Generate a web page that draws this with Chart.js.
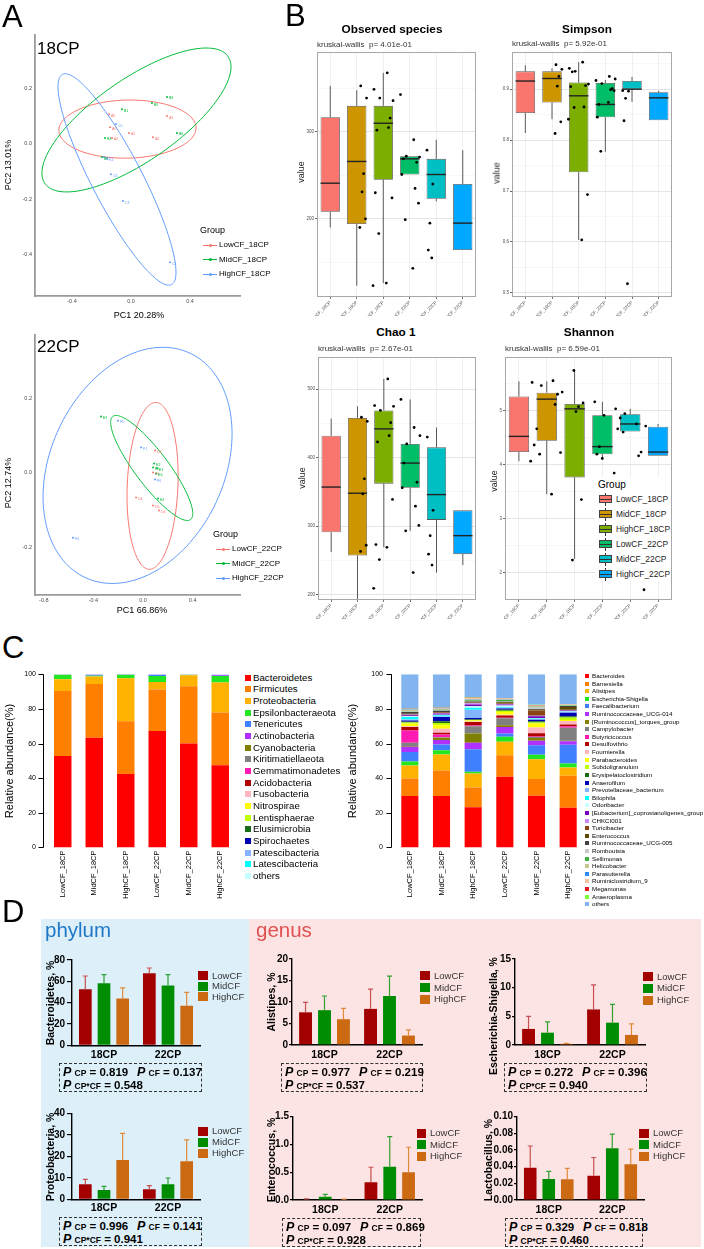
<!DOCTYPE html>
<html>
<head>
<meta charset="utf-8">
<title>Figure</title>
<script src="https://cdn.jsdelivr.net/npm/chart.js@4.4.1/dist/chart.umd.min.js"></script>
<style>
  html, body { margin: 0; padding: 0; background: #fff; }
  #page { position: relative; width: 704px; height: 1249px; overflow: hidden; font-family: "Liberation Sans", Arial, sans-serif; color: #000; }
  #page canvas { position: absolute; }
  .t { position: absolute; white-space: pre; line-height: 1; }
  .r { position: absolute; }
  .pb { position: absolute; border: 1px dashed #333; box-sizing: border-box; }
  .P { font-style: italic; font-size: 12.5px; font-weight: bold; }
  .s { font-size: 8.5px; font-weight: bold; }
</style>
</head>
<body>
<div id="page"></div>
<script>
// ================= data =================
const sampleNames = ["LowCF_18CP", "MidCF_18CP", "HighCF_18CP", "LowCF_22CP", "MidCF_22CP", "HighCF_22CP"];

// --- A: PCoA scores [PC1, PC2]
const pc18Groups = ["LowCF_18CP", "MidCF_18CP", "HighCF_18CP"];
const pc22Groups = ["LowCF_22CP", "MidCF_22CP", "HighCF_22CP"];
const pcColors = ["#F8766D", "#00BA38", "#619CFF"];
const pc18Low = [[-0.149, 0.107], [0.244, 0.100], [-0.142, 0.060], [-0.014, 0.039], [0.149, 0.024], [-0.129, 0.021]];
const pc18Mid = [[0.244, 0.169], [0.142, 0.147], [-0.061, 0.125], [0.312, 0.039], [-0.176, 0.021], [-0.197, -0.048]];
const pc18High = [[-0.102, 0.071], [-0.183, -0.048], [-0.163, -0.052], [-0.136, -0.110], [-0.054, -0.207], [0.264, -0.428]];
const pc22Low = [[0.097, 0.060], [-0.056, -0.066], [0.081, -0.088], [0.129, -0.101], [0.081, 0.001]];
const pc22Mid = [[-0.339, 0.151], [0.089, 0.025], [0.081, 0.014], [0.105, -0.002], [0.121, -0.069], [0.113, 0.012]];
const pc22High = [[-0.202, 0.140], [-0.016, 0.068], [0.097, -0.018], [-0.565, -0.174]];
const pc18Tags = [["A5", "A3", "A6", "A1", "A4", "A2"], ["B3", "B5", "B1", "B6", "B4", "B2"], ["C5", "C2", "C1", "C6", "C3", "C4"]];
const pc22Tags = [["D2", "D4", "D5", "D6", "D1"], ["E3", "E2", "E5", "E6", "E4", "E1"], ["F5", "F1", "F6", "F4"]];
// confidence ellipses: [centre PC1, centre PC2, half-range PC1, half-range PC2, phase]
const ell18 = [[-0.024, 0.053, 0.465, 0.105, 1.53], [0.037, 0.086, 0.641, 0.26, 0.74], [-0.095, -0.129, 0.40, 0.382, 2.64]];
const ell22 = [[0.077, -0.035, 0.206, 0.224, 1.45], [0.070, 0.013, 0.331, 0.141, 2.62], [-0.044, 0.020, 0.762, 0.317, 1.30]];
const pc18XTicks = [-0.4, 0, 0.4];
const pc18YTicks = [-0.4, -0.2, 0, 0.2];
const pc22XTicks = [-0.8, -0.4, 0, 0.4];
const pc22YTicks = [-0.2, 0, 0.2];

// --- B: alpha diversity boxplots
const boxColors = ["#F8766D", "#CD9600", "#7CAE00", "#00BE67", "#00BFC4", "#00A9FF"];
const obsLo = [190, 123, 126, 251, 220, 164];
const obsQ1 = [208, 194, 245, 251, 223, 164];
const obsMed = [241, 266, 310, 269, 251, 195];
const obsQ3 = [317, 330, 330, 272, 269, 240];
const obsHi = [353, 348, 368, 272, 291, 279];
const obsPts = [[353, 339, 252, 231, 200, 190], [349, 339, 302, 230, 183, 123], [368, 336, 316, 305, 224, 126],
  [343, 272, 269, 251, 199], [291, 271, 265, 235, 218, 143], [279, 240, 195, 164, 155]];
const obsGrid = [150, 200, 250, 300, 350];
const obsLabels = [200, 300];

const simLo = [0.814, 0.841, 0.604, 0.777, 0.875, 0.839];
const simQ1 = [0.853, 0.874, 0.737, 0.845, 0.900, 0.839];
const simMed = [0.916, 0.921, 0.887, 0.870, 0.900, 0.883];
const simQ3 = [0.935, 0.935, 0.913, 0.912, 0.916, 0.894];
const simHi = [0.947, 0.941, 0.953, 0.918, 0.924, 0.897];
const simPts = [[0.948, 0.939, 0.925, 0.906, 0.836, 0.813], [0.941, 0.935, 0.934, 0.905, 0.864, 0.841], [0.953, 0.910, 0.907, 0.865, 0.693, 0.604],
  [0.917, 0.911, 0.870, 0.845, 0.778], [0.925, 0.920, 0.901, 0.899, 0.897, 0.874], [0.897, 0.896, 0.882, 0.838, 0.518]];
const simGrid = [0.5, 0.55, 0.6, 0.65, 0.7, 0.75, 0.8, 0.85, 0.9, 0.95];
const simLabels = [0.5, 0.6, 0.7, 0.8, 0.9];

const chaoLo = [262, 192, 269, 293, 232, 243];
const chaoQ1 = [291, 257, 362, 356, 309, 259];
const chaoMed = [357, 348, 442, 392, 346, 286];
const chaoQ3 = [432, 458, 469, 420, 415, 323];
const chaoHi = [457, 475, 515, 485, 444, 323];
const chaoPts = [[459, 453, 369, 347, 272, 263], [476, 469, 423, 273, 251, 209], [515, 475, 451, 432, 339, 269],
  [485, 420, 392, 356, 293], [444, 432, 364, 329, 301, 232], [430, 323, 286, 259, 243]];
const chaoGrid = [200, 250, 300, 350, 400, 450, 500];
const chaoLabels = [200, 300, 400, 500];

const shanLo = [4.06, 3.45, 2.25, 4.12, 4.61, 4.16];
const shanQ1 = [4.23, 4.44, 3.76, 4.19, 4.61, 4.16];
const shanMed = [4.52, 5.21, 5.03, 4.33, 4.75, 4.23];
const shanQ3 = [5.26, 5.33, 5.12, 4.91, 4.93, 4.70];
const shanHi = [5.54, 5.54, 5.74, 5.16, 5.03, 4.75];
const shanPts = [[5.52, 5.46, 4.66, 4.36, 4.19, 4.06], [5.55, 5.34, 5.30, 5.11, 4.22, 3.45], [5.74, 5.14, 5.07, 4.98, 3.35, 2.23],
  [5.16, 4.91, 4.33, 4.19, 4.11], [5.03, 4.94, 4.86, 4.66, 4.60, 3.84], [4.75, 4.71, 4.23, 4.16, 1.68]];
const shanGrid = [1.5, 2, 2.5, 3, 3.5, 4, 4.5, 5, 5.5];
const shanLabels = [2, 3, 4, 5];

// --- C: relative abundance (%)
const abundTicks = [0, 20, 40, 60, 80, 100];
const phylaNames = ["Bacteroidetes", "Firmicutes", "Proteobacteria", "Epsilonbacteraeota", "Tenericutes", "Actinobacteria",
  "Cyanobacteria", "Kiritimatiellaeota", "Gemmatimonadetes", "Acidobacteria", "Fusobacteria", "Nitrospirae",
  "Lentisphaerae", "Elusimicrobia", "Spirochaetes", "Patescibacteria", "Latescibacteria", "others"];
const phylaColors = ["#FF0000", "#FF7F00", "#FFB300", "#22E622", "#4080FF", "#B030FF", "#808000", "#808080", "#FF1AB3",
  "#B00000", "#FFB6C1", "#FFFF00", "#C0FF00", "#1B6B1B", "#0000B3", "#82B4FF", "#00FFFF", "#C6FFFF"];
const phylaLow18 = [52.9, 37.5, 6.7, 2.6, 0.1, 0.1, 0, 0, 0, 0, 0, 0, 0, 0, 0, 0, 0, 0.1];
const phylaMid18 = [63.3, 31.1, 4.4, 0.4, 0.6, 0.1, 0, 0, 0, 0, 0, 0, 0, 0, 0, 0, 0, 0.1];
const phylaHigh18 = [42.5, 30.4, 24.8, 2.1, 0.1, 0.1, 0, 0, 0, 0, 0, 0, 0, 0, 0, 0, 0, 0];
const phylaLow22 = [67.3, 23.9, 4.4, 3.4, 0.7, 0.2, 0, 0, 0, 0, 0, 0, 0, 0, 0, 0, 0, 0.1];
const phylaMid22 = [60.0, 33.1, 6.3, 0.3, 0.1, 0.1, 0, 0, 0, 0, 0, 0, 0, 0, 0, 0, 0, 0.1];
const phylaHigh22 = [47.5, 30.4, 17.3, 3.8, 0.2, 0.6, 0, 0, 0, 0, 0, 0, 0, 0, 0, 0, 0, 0.2];

const genusNames = ["Bacteroides", "Barnesiella", "Alistipes", "Escherichia-Shigella", "Faecalibacterium",
  "Ruminococcaceae_UCG-014", "[Ruminococcus]_torques_group", "Campylobacter", "Butyricicoccus", "Desulfovibrio",
  "Fournierella", "Parabacteroides", "Subdoligranulum", "Erysipelatoclostridium", "Anaerofilum",
  "Prevotellaceae_bacterium", "Bilophila", "Odoribacter", "[Eubacterium]_coprostanoligenes_group", "CHKCI001",
  "Turicibacter", "Enterococcus", "Ruminococcaceae_UCG-005", "Romboutsia", "Sellimonas", "Helicobacter",
  "Parasutterella", "Ruminiclostridium_9", "Megamonas", "Anaeroplasma", "others"];
const genusColors = ["#FF0000", "#FF7F00", "#FFB300", "#22E622", "#4080FF", "#B030FF", "#808000", "#808080", "#FF1AB3",
  "#B00000", "#FFB6C1", "#FFFF00", "#C0FF00", "#1B6B1B", "#0000B3", "#82B4FF", "#00FFFF", "#C6FFFF", "#7A00B3",
  "#C58AFF", "#8B4513", "#5C4B00", "#404040", "#C8C8C8", "#3CB43C", "#C8C896", "#2D8CFF", "#F5C3A0", "#E01E1E",
  "#7CFF3C", "#82B4F0"];
const genusLow18 = [29.7, 10.2, 7.4, 2.3, 5.6, 2.9, 0.5, 1.9, 7.0, 2.1, 0.4, 1.6, 0.5, 0.5, 0.7, 0.6, 1.5, 0.4, 0.5, 0.4, 0.3, 0.2, 1.0, 0.3, 0.3, 0.8, 0.2, 0.2, 0.1, 0.1, 19.8];
const genusMid18 = [29.7, 14.8, 9.2, 2.4, 3.4, 2.5, 1.3, 0.4, 1.5, 1.0, 2.3, 2.1, 1.3, 1.0, 2.4, 0.4, 0.6, 0.3, 0.8, 0.3, 0.3, 0.2, 0.8, 0.3, 0.2, 0.4, 0.2, 0.5, 0.1, 0.1, 19.2];
const genusHigh18 = [23.2, 11.5, 8.0, 1.0, 13.0, 3.8, 5.3, 4.2, 0.4, 2.0, 0.3, 0.6, 0.3, 0.5, 0.6, 4.8, 1.2, 0.8, 1.0, 0.8, 0.3, 0.3, 0.4, 0.3, 0.4, 0.5, 0.3, 0.5, 0.2, 0.2, 13.3];
const genusLow22 = [40.8, 12.5, 7.7, 2.9, 1.9, 3.8, 1.0, 4.0, 0.3, 1.3, 0.4, 1.6, 0.8, 0.5, 0.8, 0.4, 0.4, 0.9, 0.6, 0.3, 0.3, 0.6, 0.3, 0.3, 0.8, 0.3, 0.2, 0.3, 0.1, 0.2, 13.7];
const genusMid22 = [29.9, 9.6, 11.5, 2.5, 5.6, 2.6, 1.5, 0.6, 0.3, 1.9, 3.3, 2.3, 0.5, 0.8, 0.8, 0.3, 0.5, 0.3, 1.0, 0.3, 3.0, 0.5, 0.4, 1.2, 0.4, 0.2, 0.1, 0.1, 0.3, 0.1, 17.6];
const genusHigh22 = [22.9, 18.5, 4.8, 2.3, 10.8, 2.0, 0.4, 7.5, 0.6, 1.2, 2.0, 0.6, 1.4, 0.8, 2.0, 0.3, 0.3, 0.3, 0.4, 0.2, 0.3, 1.5, 0.6, 0.2, 0.2, 0.4, 0.1, 0.1, 0.1, 0.1, 17.1];

// --- D: mean and SD by CP level (rows: LowCF, MidCF, HighCF; columns: 18CP, 22CP)
const cpGroups = ["18CP", "22CP"];
const cfLevels = ["LowCF", "MidCF", "HighCF"];
const cfColors = ["#A30000", "#008C00", "#CC6A14"];
const cfErrColors = ["#C85050", "#30A030", "#E08A3A"];
const bactMean = [[52.5, 67.5], [58.3, 56.0], [44.0, 37.0]];
const bactSd = [[12.5, 5.0], [8.0, 10.3], [9.8, 12.7]];
const proteoMean = [[7.0, 4.7], [4.3, 7.0], [18.3, 17.7]];
const proteoSd = [[2.3, 1.7], [1.7, 2.9], [12.4, 9.9]];
const alisMean = [[7.6, 8.4], [8.1, 11.4], [6.0, 2.2]];
const alisSd = [[2.3, 4.6], [3.3, 4.6], [2.5, 1.3]];
const escMean = [[2.8, 6.2], [2.15, 3.9], [0.2, 1.75]];
const escSd = [[2.2, 4.3], [1.9, 3.2], [0.1, 1.95]];
const enteMean = [[0.01, 0.32], [0.06, 0.60], [0.01, 0.50]];
const enteSd = [[0.01, 0.27], [0.04, 0.54], [0.005, 0.45]];
const lactMean = [[0.0388, 0.029], [0.0252, 0.062], [0.025, 0.043]];
const lactSd = [[0.026, 0.022], [0.0092, 0.017], [0.013, 0.018]];
const bactTicks = [0, 20, 40, 60, 80];
const proteoTicks = [0, 10, 20, 30, 40];
const alisTicks = [0, 5, 10, 15, 20];
const escTicks = [0, 5, 10, 15];
const enteTicks = [0, 0.5, 1.0, 1.5];
const lactTicks = [0, 0.02, 0.04, 0.06, 0.08, 0.10];
// P values: Bacteroidetes, Proteobacteria, Alistipes, Escherichia-Shigella, Enterococcus, Lactobacillus
const pCP = [0.819, 0.996, 0.977, 0.272, 0.097, 0.329];
const pCF = [0.137, 0.141, 0.219, 0.396, 0.869, 0.818];
const pCPxCF = [0.548, 0.941, 0.537, 0.940, 0.928, 0.460];

// ================= helpers =================
Chart.defaults.font.family = '"Liberation Sans", Arial, sans-serif';
Chart.defaults.color = '#000';
Chart.defaults.animation = false;
Chart.defaults.responsive = false;
Chart.defaults.maintainAspectRatio = false;
Chart.defaults.devicePixelRatio = 1;
Chart.defaults.plugins.legend.display = false;
Chart.defaults.plugins.tooltip.enabled = false;
Chart.defaults.layout.autoPadding = false;

const page = document.getElementById('page');

function canvasAt(b) {
  const c = document.createElement('canvas');
  c.width = b.w; c.height = b.h;
  c.style.left = b.x + 'px'; c.style.top = b.y + 'px';
  c.style.width = b.w + 'px'; c.style.height = b.h + 'px';
  page.appendChild(c);
  return c;
}

// fixes the plot area of a chart inside its canvas box
function frame(b, p) {
  return {
    pad: { left: 0, top: p.y - b.y, right: b.x + b.w - p.x - p.w, bottom: 0 },
    yFit: s => { s.width = p.x - b.x; s.paddingTop = 0; s.paddingBottom = 0; },
    xFit: s => { s.height = b.y + b.h - p.y - p.h; s.paddingLeft = 0; s.paddingRight = 0; }
  };
}

function text(html, x, y, css, anchor) {
  const d = document.createElement('div');
  d.className = 't';
  d.innerHTML = html;
  d.style.left = x + 'px'; d.style.top = y + 'px';
  d.style.cssText += css || '';
  const tx = anchor === 'c' ? '-50%' : anchor === 'r' ? '-100%' : '0';
  d.style.transform = 'translate(' + tx + ',-50%)';
  page.appendChild(d);
  return d;
}

function vtext(html, x, y, css) {
  const d = text(html, x, y, css);
  d.style.transform = 'translate(-50%,-50%) rotate(-90deg)';
  return d;
}

function rect(x, y, w, h, color, css) {
  const d = document.createElement('div');
  d.className = 'r';
  d.style.cssText = 'left:' + x + 'px;top:' + y + 'px;width:' + w + 'px;height:' + h + 'px;background:' + color + ';' + (css || '');
  page.appendChild(d);
  return d;
}

// ---------- plugins ----------
function ellipsePlugin(list) {
  return {
    id: 'ellipses',
    beforeDatasetsDraw(chart) {
      const { ctx, scales: { x, y } } = chart;
      ctx.save();
      ctx.lineWidth = 1;
      list.forEach((e, k) => {
        ctx.strokeStyle = pcColors[k];
        ctx.beginPath();
        for (let s = 0; s <= 160; s++) {
          const t = s / 160 * Math.PI * 2;
          const px = x.getPixelForValue(e[0] + e[2] * Math.cos(t));
          const py = y.getPixelForValue(e[1] + e[3] * Math.cos(t + e[4]));
          if (s === 0) ctx.moveTo(px, py); else ctx.lineTo(px, py);
        }
        ctx.stroke();
      });
      ctx.restore();
    }
  };
}

function tagPlugin(tags) {
  return {
    id: 'tags',
    afterDatasetsDraw(chart) {
      const ctx = chart.ctx;
      ctx.save();
      ctx.font = '3.5px "Liberation Sans", Arial';
      ctx.textBaseline = 'middle';
      chart.data.datasets.forEach((ds, di) => {
        ctx.fillStyle = pcColors[di];
        chart.getDatasetMeta(di).data.forEach((pt, i) => {
          ctx.fillText(tags[di][i] || '', pt.x + 2, pt.y + 1.5);
        });
      });
      ctx.restore();
    }
  };
}

function boxPartsPlugin(st) {
  return {
    id: 'boxParts',
    afterDatasetDraw(chart, args) {
      if (args.index !== 0) return;
      const { ctx, scales: { y } } = chart;
      ctx.save();
      args.meta.data.forEach((bar, i) => {
        const x = bar.x, hw = bar.width / 2;
        ctx.strokeStyle = '#333'; ctx.lineWidth = 0.8;
        ctx.beginPath();
        ctx.moveTo(x, y.getPixelForValue(st.q3[i])); ctx.lineTo(x, y.getPixelForValue(st.hi[i]));
        ctx.moveTo(x, y.getPixelForValue(st.q1[i])); ctx.lineTo(x, y.getPixelForValue(st.lo[i]));
        ctx.stroke();
        ctx.strokeStyle = '#222'; ctx.lineWidth = 1.4;
        const ym = y.getPixelForValue(st.med[i]);
        ctx.beginPath(); ctx.moveTo(x - hw, ym); ctx.lineTo(x + hw, ym); ctx.stroke();
      });
      ctx.restore();
    }
  };
}

const panelBorder = {
  id: 'panelBorder',
  afterDatasetsDraw(chart) {
    const { ctx, chartArea: a } = chart;
    ctx.save();
    ctx.strokeStyle = '#A8A8A8'; ctx.lineWidth = 1;
    ctx.strokeRect(Math.round(a.left) + 0.5, Math.round(a.top) + 0.5, Math.round(a.width) - 1, Math.round(a.height) - 1);
    ctx.restore();
  }
};

function sideAxisPlugin(off) {
  return {
    id: 'sideAxis',
    afterDraw(chart) {
      const { ctx, chartArea: a, scales: { y } } = chart;
      const x = Math.round(a.left - off) + 0.5;
      ctx.save();
      ctx.strokeStyle = '#000'; ctx.lineWidth = 1;
      ctx.beginPath();
      ctx.moveTo(x, y.getPixelForValue(y.max)); ctx.lineTo(x, y.getPixelForValue(y.min));
      y.ticks.forEach(t => {
        const py = Math.round(y.getPixelForValue(t.value)) + 0.5;
        ctx.moveTo(x - 5, py); ctx.lineTo(x, py);
      });
      ctx.stroke();
      ctx.restore();
    }
  };
}

function errorBarPlugin(sd) {
  return {
    id: 'errorBars',
    afterDatasetsDraw(chart) {
      const { ctx, scales: { y } } = chart;
      ctx.save();
      ctx.lineWidth = 1.2;
      chart.data.datasets.forEach((ds, di) => {
        ctx.strokeStyle = cfErrColors[di];
        chart.getDatasetMeta(di).data.forEach((bar, i) => {
          const top = y.getPixelForValue(ds.data[i] + sd[di][i]);
          ctx.beginPath();
          ctx.moveTo(bar.x, bar.y); ctx.lineTo(bar.x, top);
          ctx.moveTo(bar.x - 2.5, top); ctx.lineTo(bar.x + 2.5, top);
          ctx.stroke();
        });
      });
      ctx.restore();
    }
  };
}

// ---------- chart builders ----------
function pcoaChart(b, p, groups, tags, ells, xr, yr, xt, yt) {
  const f = frame(b, p);
  new Chart(canvasAt(b), {
    type: 'scatter',
    data: {
      datasets: groups.map((g, k) => ({
        data: g.map(v => ({ x: v[0], y: v[1] })),
        backgroundColor: pcColors[k], pointRadius: 1, pointBorderWidth: 0
      }))
    },
    options: {
      layout: { padding: f.pad },
      scales: {
        x: {
          min: xr[0], max: xr[1], afterFit: f.xFit,
          afterBuildTicks: s => { s.ticks = xt.map(v => ({ value: v })); },
          grid: { display: false, drawTicks: false },
          border: { color: '#9A9A9A', width: 1.8 },
          ticks: { font: { size: 5.5 }, color: '#4D4D4D', padding: 2, callback: v => v.toFixed(1) }
        },
        y: {
          min: yr[0], max: yr[1], afterFit: f.yFit,
          afterBuildTicks: s => { s.ticks = yt.map(v => ({ value: v })); },
          grid: { display: false, drawTicks: false },
          border: { color: '#9A9A9A', width: 1.8 },
          ticks: { font: { size: 5.5 }, color: '#4D4D4D', padding: 3, callback: v => v.toFixed(1) }
        }
      }
    },
    plugins: [ellipsePlugin(ells), tagPlugin(tags)]
  });
}

const jitter = [-0.2, 0.24, 0.02, -0.1, 0.16, -0.27];

function boxChart(b, p, st, range, grid, labs, dec) {
  const f = frame(b, p);
  const isMajor = v => labs.some(m => Math.abs(m - v) < 1e-9);
  const pts = [];
  st.pts.forEach((arr, i) => arr.forEach((v, j) => pts.push({ x: i + jitter[j], y: v })));
  new Chart(canvasAt(b), {
    type: 'bar',
    data: {
      labels: sampleNames,
      datasets: [
        {
          type: 'bar', order: 1, grouped: false,
          data: st.q1.map((v, i) => [v, st.q3[i]]),
          backgroundColor: boxColors, borderColor: '#555', borderWidth: 0.8, borderSkipped: false,
          barPercentage: 0.73, categoryPercentage: 1
        },
        {
          type: 'scatter', order: 0, xAxisID: 'xj', grouped: false,
          data: pts, pointRadius: 1.4, pointBackgroundColor: '#000', pointBorderWidth: 0
        }
      ]
    },
    options: {
      layout: { padding: f.pad },
      scales: {
        x: {
          offset: true, afterFit: f.xFit,
          grid: { offset: false, color: '#EBEBEB', lineWidth: 0.8, tickLength: 2, tickColor: '#555' },
          border: { display: false },
          ticks: { autoSkip: false, minRotation: 45, maxRotation: 45, font: { size: 4.5 }, color: '#4D4D4D', padding: 1 }
        },
        xj: { type: 'linear', display: false, min: -0.5, max: 5.5 },
        y: {
          min: range[0], max: range[1], afterFit: f.yFit,
          afterBuildTicks: s => { s.ticks = grid.map(v => ({ value: v })); },
          grid: {
            color: c => isMajor(c.tick.value) ? '#E2E2E2' : '#F2F2F2',
            lineWidth: c => isMajor(c.tick.value) ? 0.9 : 0.6,
            tickLength: 2,
            tickColor: c => isMajor(c.tick.value) ? '#555' : 'rgba(0,0,0,0)'
          },
          border: { display: false },
          ticks: { font: { size: 4.5 }, color: '#4D4D4D', padding: 1, callback: v => isMajor(v) ? v.toFixed(dec) : '' }
        }
      }
    },
    plugins: [boxPartsPlugin(st), panelBorder]
  });
}

function stackChart(b, p, names, colors, samples, axisOff, tickPad, barPct) {
  const f = frame(b, p);
  new Chart(canvasAt(b), {
    type: 'bar',
    data: {
      labels: sampleNames,
      datasets: names.map((n, k) => ({
        label: n, data: samples.map(s => s[k]), backgroundColor: colors[k],
        borderWidth: 0, barPercentage: barPct, categoryPercentage: 1
      }))
    },
    options: {
      layout: { padding: f.pad },
      scales: {
        x: {
          stacked: true, afterFit: f.xFit,
          grid: { display: false, drawTicks: false }, border: { display: false },
          ticks: { autoSkip: false, minRotation: 90, maxRotation: 90, font: { size: 7.5 }, color: '#000', padding: 3 }
        },
        y: {
          stacked: true, min: 0, max: 100, afterFit: f.yFit,
          afterBuildTicks: s => { s.ticks = abundTicks.map(v => ({ value: v })); },
          grid: { display: false, drawTicks: false }, border: { display: false },
          ticks: { font: { size: 7 }, color: '#000', padding: tickPad }
        }
      }
    },
    plugins: [sideAxisPlugin(axisOff)]
  });
}

function meanChart(b, p, mean, sd, ticks, dec, xPad, tickLen, tickPad) {
  const f = frame(b, p);
  new Chart(canvasAt(b), {
    type: 'bar',
    data: {
      labels: cpGroups,
      datasets: cfLevels.map((lv, k) => ({
        label: lv, data: mean[k], backgroundColor: cfColors[k],
        barPercentage: 0.68, categoryPercentage: 0.875
      }))
    },
    options: {
      layout: { padding: f.pad },
      scales: {
        x: {
          afterFit: f.xFit,
          grid: { display: false, drawTicks: false },
          border: { color: '#000', width: 1.4 },
          ticks: { font: { size: 10.5, weight: 'bold' }, color: '#000', padding: xPad }
        },
        y: {
          min: ticks[0], max: ticks[ticks.length - 1], afterFit: f.yFit,
          afterBuildTicks: s => { s.ticks = ticks.map(v => ({ value: v })); },
          grid: { drawOnChartArea: false, tickLength: tickLen, color: '#000', lineWidth: 1.2 },
          border: { color: '#000', width: 1.4 },
          ticks: { font: { size: 10, weight: 'bold' }, color: '#000', padding: tickPad, callback: v => v.toFixed(dec) }
        }
      }
    },
    plugins: [errorBarPlugin(sd)]
  });
}

function cfLegend(swX, textX, y0, step) {
  cfLevels.forEach((lv, k) => {
    const y = y0 + k * step;
    rect(swX, y - 4.5, 9.5, 9, cfColors[k]);
    text(lv, textX, y, 'font-size:9.5px;color:#333;');
  });
}

function pBox(x, y, w, h, k) {
  const d = document.createElement('div');
  d.className = 'pb';
  d.style.cssText = 'left:' + x + 'px;top:' + y + 'px;width:' + w + 'px;height:' + h + 'px;';
  page.appendChild(d);
  const st = 'font-size:11.5px;font-weight:bold;';
  text('<span class="P">P</span> <span class="s">CP</span> = ' + pCP[k].toFixed(3), x + 4, y + 9, st);
  text('<span class="P">P</span> <span class="s">CF</span> = ' + pCF[k].toFixed(3), x + 78, y + 9, st);
  text('<span class="P">P</span> <span class="s">CP*CF</span> = ' + pCPxCF[k].toFixed(3), x + 4, y + 22, st);
}

// ================= layout =================
// panel D backgrounds first so charts sit on top
rect(41, 919, 208, 328, '#DDF0FA');
rect(249, 919, 452, 328, '#FDE4E4');

// ---- A
pcoaChart({ x: 0, y: 30, w: 250, h: 285 }, { x: 35, y: 35, w: 205, h: 261 },
  [pc18Low, pc18Mid, pc18High], pc18Tags, ell18, [-0.651, 0.739], [-0.550, 0.393], pc18XTicks, pc18YTicks);
pcoaChart({ x: 0, y: 330, w: 250, h: 282 }, { x: 35, y: 335, w: 205, h: 260 },
  [pc22Low, pc22Mid, pc22High], pc22Tags, ell22, [-0.871, 0.782], [-0.328, 0.370], pc22XTicks, pc22YTicks);

// ---- B
boxChart({ x: 290, y: 48, w: 190, h: 268 }, { x: 317, y: 52, w: 159, h: 245 },
  { lo: obsLo, q1: obsQ1, med: obsMed, q3: obsQ3, hi: obsHi, pts: obsPts }, [110, 392], obsGrid, obsLabels, 0);
boxChart({ x: 485, y: 48, w: 192, h: 268 }, { x: 512, y: 52, w: 160, h: 245 },
  { lo: simLo, q1: simQ1, med: simMed, q3: simQ3, hi: simHi, pts: simPts }, [0.492, 0.973], simGrid, simLabels, 1);
boxChart({ x: 290, y: 352, w: 190, h: 267 }, { x: 318, y: 357, w: 158, h: 243 },
  { lo: chaoLo, q1: chaoQ1, med: chaoMed, q3: chaoQ3, hi: chaoHi, pts: chaoPts }, [192, 547], chaoGrid, chaoLabels, 0);
boxChart({ x: 480, y: 352, w: 197, h: 267 }, { x: 505, y: 357, w: 167, h: 243 },
  { lo: shanLo, q1: shanQ1, med: shanMed, q3: shanQ3, hi: shanHi, pts: shanPts }, [1.49, 5.99], shanGrid, shanLabels, 0);

// ---- C
stackChart({ x: 0, y: 665, w: 240, h: 250 }, { x: 47, y: 674.3, w: 189, h: 173.2 },
  phylaNames, phylaColors, [phylaLow18, phylaMid18, phylaHigh18, phylaLow22, phylaMid22, phylaHigh22], 4, 11, 0.555);
stackChart({ x: 345, y: 665, w: 245, h: 250 }, { x: 394, y: 674.3, w: 190, h: 173.2 },
  genusNames, genusColors, [genusLow18, genusMid18, genusHigh18, genusLow22, genusMid22, genusHigh22], 3, 11, 0.54);

// ---- D
meanChart({ x: 38, y: 950, w: 168, h: 112 }, { x: 72, y: 960, w: 128, h: 85.3 }, bactMean, bactSd, bactTicks, 0, 4, 5, 2);
meanChart({ x: 38, y: 1103, w: 168, h: 113 }, { x: 72, y: 1113.3, w: 128, h: 86 }, proteoMean, proteoSd, proteoTicks, 0, 3, 5, 2);
meanChart({ x: 255, y: 949, w: 170, h: 113 }, { x: 292, y: 959, w: 130, h: 86 }, alisMean, alisSd, alisTicks, 0, 4, 3, 1);
meanChart({ x: 478, y: 949, w: 170, h: 113 }, { x: 515, y: 959, w: 130, h: 86 }, escMean, escSd, escTicks, 0, 4, 3, 1);
meanChart({ x: 255, y: 1106, w: 170, h: 110 }, { x: 293, y: 1116.7, w: 129, h: 83.3 }, enteMean, enteSd, enteTicks, 1, 4, 3, 1);
meanChart({ x: 470, y: 1106, w: 178, h: 110 }, { x: 517, y: 1116.7, w: 127, h: 83.3 }, lactMean, lactSd, lactTicks, 2, 4, 3, 1);

// ================= text =================
const big = 'font-size:31px;color:#000;';
text('A', 2, 16, big);
text('B', 285, 15, big);
text('C', 2, 647, big);
text('D', 2, 911, big);

// A
text('18CP', 37, 48, 'font-size:17px;');
text('22CP', 37, 346, 'font-size:17px;');
vtext('PC2 13.01%', 8, 165, 'font-size:9px;');
text('PC1 20.28%', 139, 315, 'font-size:9px;', 'c');
vtext('PC2 12.74%', 8, 483, 'font-size:9px;');
text('PC1 66.86%', 142, 610, 'font-size:9px;', 'c');
function pcLegend(x, y0, names) {
  text('Group', x, y0, 'font-size:9px;');
  names.forEach((n, k) => {
    const y = y0 + 15 + k * 14.6;
    rect(x + 3, y - 0.5, 14, 1, pcColors[k]);
    rect(x + 9, y - 1.5, 3, 3, pcColors[k], 'border-radius:50%;');
    text(n, x + 19, y, 'font-size:8px;');
  });
}
pcLegend(200, 230, pc18Groups);
pcLegend(213, 534, pc22Groups);

// B
const titleCss = 'font-size:11.8px;font-weight:bold;';
const subCss = 'font-size:8px;color:#333;';
text('Observed species', 392, 29.5, titleCss, 'c');
text('kruskal-wallis  p= 4.01e-01', 317, 44.5, subCss);
text('Simpson', 587, 29.5, titleCss, 'c');
text('kruskal-wallis  p= 5.92e-01', 512, 43.5, subCss);
text('Chao 1', 396, 333, titleCss, 'c');
text('kruskal-wallis  p= 2.67e-01', 318, 349, subCss);
text('Shannon', 589, 333, titleCss, 'c');
text('kruskal-wallis  p= 6.59e-01', 505, 349, subCss);
vtext('value', 301, 172, 'font-size:9px;color:#222;');
vtext('value', 497, 173, 'font-size:9px;color:#222;');
vtext('value', 302, 478, 'font-size:9px;color:#222;');
vtext('value', 494, 481, 'font-size:9px;color:#222;');
rect(595, 477, 76, 104, '#fff');
text('Group', 598, 485, 'font-size:10px;');
sampleNames.forEach((n, i) => {
  const y = 499.3 + i * 15;
  rect(605, y - 6.5, 0.8, 13, '#333');
  rect(599, y - 4, 13, 8, boxColors[i], 'border:0.8px solid #444;box-sizing:border-box;');
  rect(599, y - 0.5, 13, 1, '#333');
  text(n, 616, y, 'font-size:8.4px;color:#1a1a1a;');
});

// C
vtext('Relative abundance(%)', 9, 761, 'font-size:11px;');
vtext('Relative abundance(%)', 352, 761, 'font-size:11px;');
phylaNames.forEach((n, k) => {
  const y = 677.7 + k * 11.67;
  rect(245, y - 3, 6, 6, phylaColors[k]);
  text(n, 253, y, 'font-size:9.7px;');
});
genusNames.forEach((n, k) => {
  const y = 676 + k * 7.61;
  rect(585, y - 2, 4, 4, genusColors[k]);
  text(n, 592, y, 'font-size:6.2px;');
});

// D
text('phylum', 45, 930, 'font-size:20.5px;color:#1F77C8;');
text('genus', 256, 930, 'font-size:20.5px;color:#E05050;');
const yl = 'font-size:10.5px;font-weight:bold;';
vtext('Bacteroidetes, %', 50, 1003, yl);
vtext('Proteobacteria, %', 50, 1157, yl);
vtext('Alistipes, %', 271, 1002, yl);
vtext('Escherichia-Shigella, %', 493, 1016, yl);
vtext('Enterococcus, %', 271, 1160, yl);
vtext('Lactobacillus, %', 488, 1160, yl);
cfLegend(198, 212, 975.7, 10.5);
cfLegend(198, 212, 1131, 11.2);
cfLegend(420, 434, 975.7, 11.8);
cfLegend(643, 657, 976.7, 11.7);
cfLegend(416.7, 430, 1133.3, 11.4);
cfLegend(639, 653, 1133.3, 11.4);
pBox(59, 1063, 143, 29, 0);
pBox(59, 1217, 143, 29, 1);
pBox(281, 1063.3, 142, 28.5, 2);
pBox(504, 1063.3, 143, 28.5, 3);
pBox(282, 1217.7, 139, 29, 4);
pBox(505, 1217.7, 138, 29, 5);
</script>
</body>
</html>
